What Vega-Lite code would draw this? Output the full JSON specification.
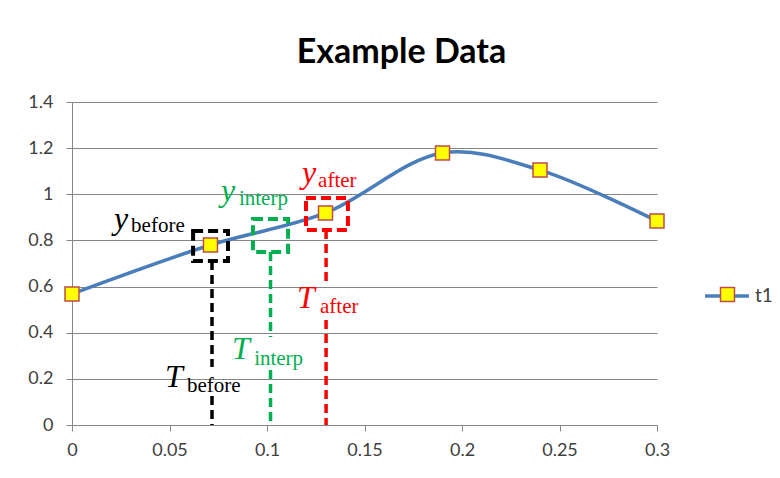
{
  "$schema": "https://vega.github.io/schema/vega-lite/v6.json",
  "width": 585,
  "height": 323,
  "autosize": "none",
  "padding": {"left": 72, "top": 102, "right": 123, "bottom": 53},
  "background": "white",
  "title": {"text": "Example Data", "font": "Lato", "fontSize": 34, "fontWeight": "bold", "color": "#000000", "anchor": "middle", "dx": 37, "offset": 23},
  "config": {"view": {"stroke": null}},
  "datasets": {
    "series": [
      {"x": 0, "y": 0.568, "series": "t1"},
      {"x": 0.071, "y": 0.78, "series": "t1"},
      {"x": 0.13, "y": 0.919, "series": "t1"},
      {"x": 0.19, "y": 1.179, "series": "t1"},
      {"x": 0.24, "y": 1.105, "series": "t1"},
      {"x": 0.3, "y": 0.884, "series": "t1"}
    ],
    "boxes": [
      {"which": "before", "x": 0.0621, "x2": 0.08, "y": 0.841, "y2": 0.711},
      {"which": "interp", "x": 0.0928, "x2": 0.1108, "y": 0.893, "y2": 0.75},
      {"which": "after", "x": 0.12, "x2": 0.1415, "y": 0.984, "y2": 0.845}
    ],
    "rules": [
      {"which": "before", "x": 0.0718, "y": 0.711, "y2": 0.251},
      {"which": "before", "x": 0.0718, "y": 0.126, "y2": 0},
      {"which": "interp", "x": 0.1018, "y": 0.75, "y2": 0.381},
      {"which": "interp", "x": 0.1018, "y": 0.238, "y2": 0},
      {"which": "after", "x": 0.1303, "y": 0.845, "y2": 0.62},
      {"which": "after", "x": 0.1303, "y": 0.455, "y2": 0}
    ],
    "labelMain": [
      {"which": "before", "t": "y", "x": 0.0216, "y": 0.8517},
      {"which": "interp", "t": "y", "x": 0.0764, "y": 0.971},
      {"which": "after", "t": "y", "x": 0.118, "y": 1.049},
      {"which": "before", "t": "T", "x": 0.0477, "y": 0.1647},
      {"which": "interp", "t": "T", "x": 0.0821, "y": 0.2861},
      {"which": "after", "t": "T", "x": 0.1154, "y": 0.507}
    ],
    "labelSub": [
      {"which": "before", "t": "before", "x": 0.0303, "y": 0.8365},
      {"which": "interp", "t": "interp", "x": 0.0856, "y": 0.9536},
      {"which": "after", "t": "after", "x": 0.1262, "y": 1.0316},
      {"which": "before", "t": "before", "x": 0.059, "y": 0.143},
      {"which": "interp", "t": "interp", "x": 0.0934, "y": 0.26},
      {"which": "after", "t": "after", "x": 0.1272, "y": 0.4855}
    ]
  },
  "encoding": {
    "x": {
      "field": "x", "type": "quantitative",
      "scale": {"domain": [0, 0.3], "nice": false, "zero": false},
      "axis": {"title": null, "values": [0, 0.05, 0.1, 0.15, 0.2, 0.25, 0.3], "format": ".2~f", "grid": false,
        "domainColor": "#868686", "tickColor": "#868686", "tickSize": 6, "labelFont": "Lato", "labelFontSize": 18,
        "labelColor": "#404040", "labelPadding": 10, "labelFlush": false}
    },
    "y": {
      "field": "y", "type": "quantitative",
      "scale": {"domain": [0, 1.4], "nice": false, "zero": false},
      "axis": {"title": null, "values": [0, 0.2, 0.4, 0.6, 0.8, 1, 1.2, 1.4], "format": ".1~f", "grid": true,
        "gridColor": "#868686", "gridWidth": 1, "domainColor": "#868686", "tickColor": "#868686", "tickSize": 6,
        "labelFont": "Lato", "labelFontSize": 18, "labelColor": "#404040", "labelPadding": 13}
    }
  },
  "layer": [
    {
      "data": {"name": "series"},
      "mark": {"type": "line", "interpolate": "catmull-rom", "strokeWidth": 3.5},
      "encoding": {
        "stroke": {"field": "series", "type": "nominal", "scale": {"range": ["#4A7EBB"]},
          "legend": {"orient": "none", "legendX": 631, "legendY": 170, "title": null, "padding": 0,
            "symbolType": "stroke", "symbolSize": 1936, "symbolStrokeWidth": 3.5,
            "labelFont": "Lato", "labelFontSize": 19, "labelColor": "#404040", "labelOffset": 4}}
      }
    },
    {
      "data": {"name": "boxes"},
      "mark": {"type": "rect", "filled": false, "strokeWidth": 4, "strokeDash": [10, 5]},
      "encoding": {
        "x2": {"field": "x2"},
        "y2": {"field": "y2"},
        "color": {"field": "which", "type": "nominal", "scale": {"domain": ["before", "interp", "after"], "range": ["#000000", "#00B050", "#FF0000"]}, "legend": null}
      }
    },
    {
      "data": {"name": "rules"},
      "mark": {"type": "rule", "strokeWidth": 3.5, "strokeDash": [9, 5]},
      "encoding": {
        "y2": {"field": "y2"},
        "color": {"field": "which", "type": "nominal", "legend": null}
      }
    },
    {
      "data": {"name": "series"},
      "mark": {"type": "point", "shape": "square", "size": 196, "filled": true, "opacity": 1, "stroke": "#BE4B48", "strokeWidth": 1.5},
      "encoding": {
        "fill": {"field": "series", "type": "nominal", "scale": {"domain": ["t1"], "range": ["#FFFF00"]},
          "legend": {"orient": "none", "legendX": 646, "legendY": 183, "title": null, "padding": 0,
            "symbolType": "square", "symbolSize": 196, "symbolStrokeColor": "#BE4B48", "symbolStrokeWidth": 1.5,
            "labelFont": "Lato", "labelFontSize": 19, "labelExpr": "''"}}
      }
    },
    {
      "data": {"name": "labelMain"},
      "mark": {"type": "text", "font": "Liberation Serif", "fontStyle": "italic", "fontSize": 32, "align": "left", "baseline": "alphabetic"},
      "encoding": {
        "text": {"field": "t"},
        "color": {"field": "which", "type": "nominal", "legend": null}
      }
    },
    {
      "data": {"name": "labelSub"},
      "mark": {"type": "text", "font": "Liberation Serif", "fontSize": 21, "align": "left", "baseline": "alphabetic"},
      "encoding": {
        "text": {"field": "t"},
        "color": {"field": "which", "type": "nominal", "legend": null}
      }
    }
  ]
}
